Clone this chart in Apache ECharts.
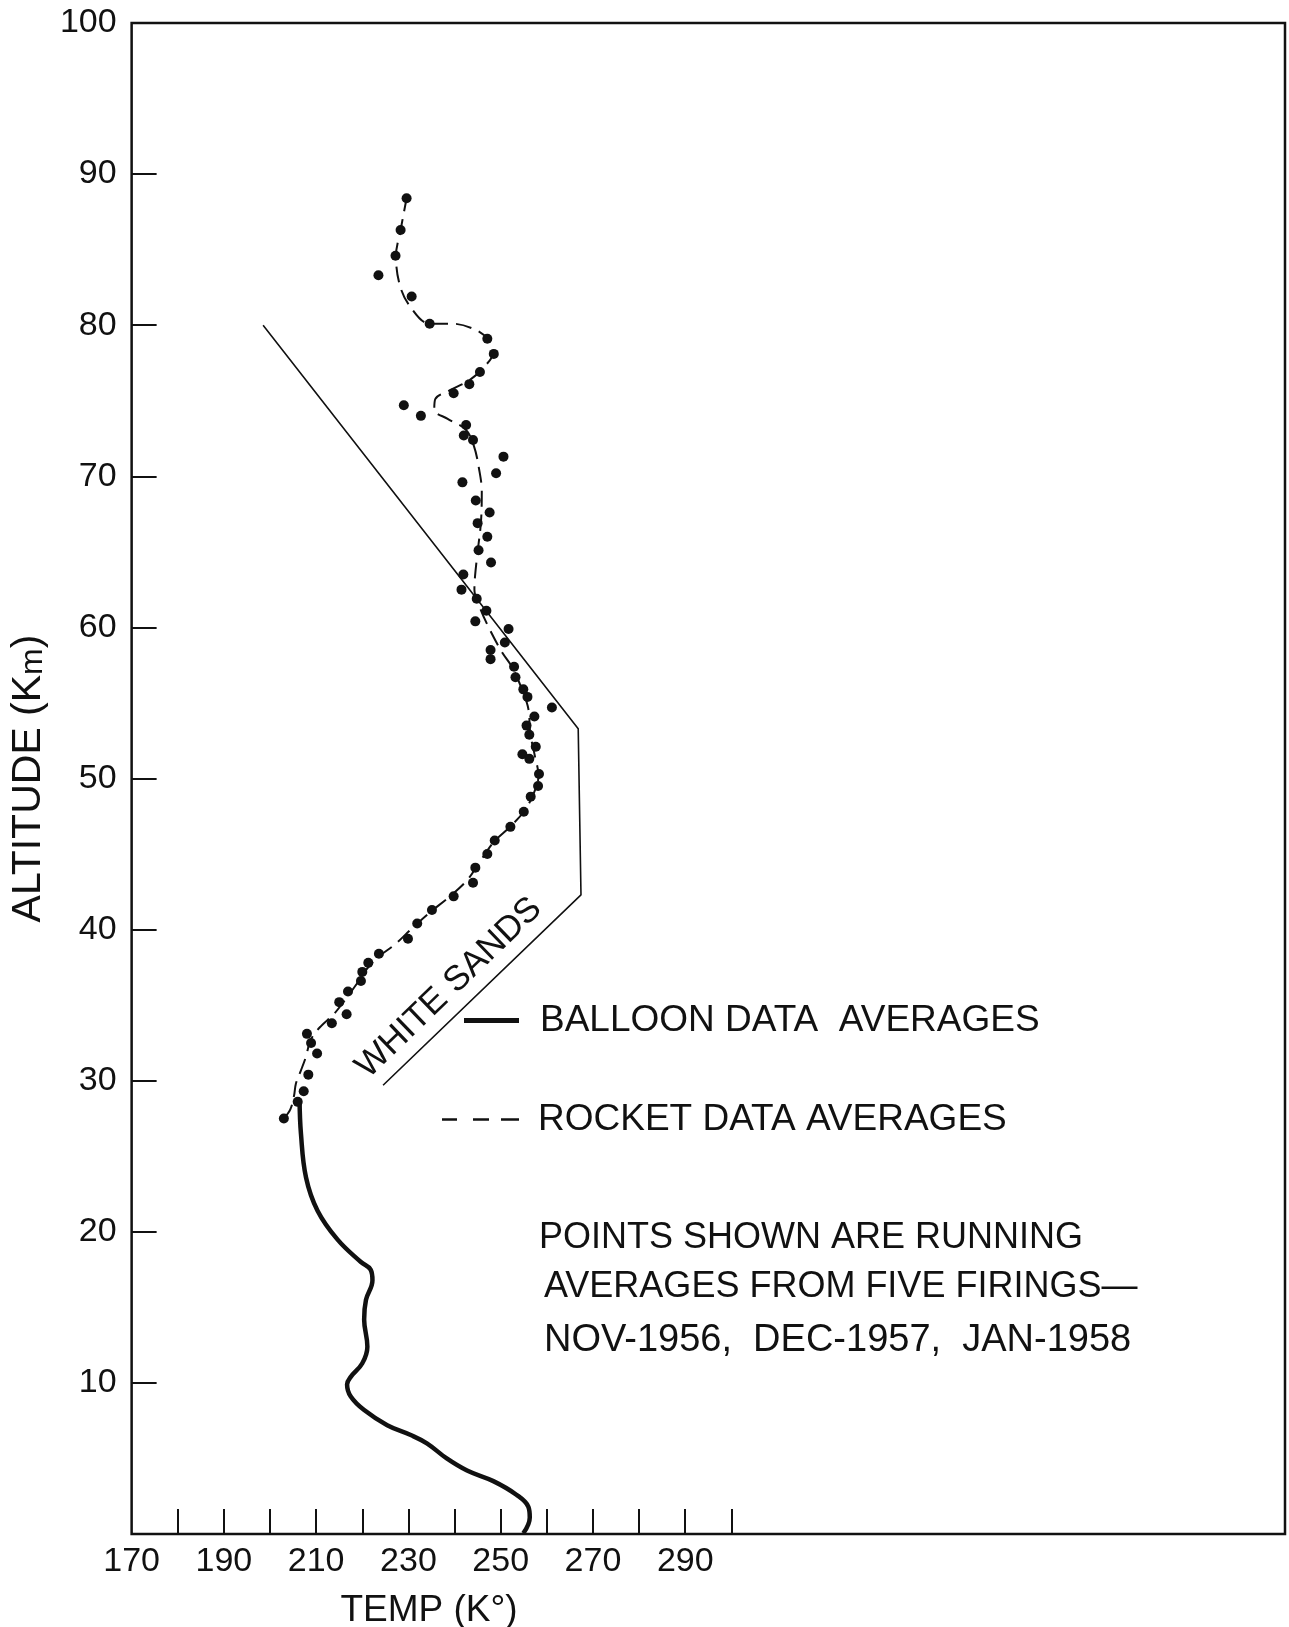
<!DOCTYPE html>
<html>
<head>
<meta charset="utf-8">
<title>Altitude vs Temperature - White Sands</title>
<script src="https://cdn.jsdelivr.net/npm/echarts@6/dist/echarts.min.js"></script>
<style>
  html, body { margin: 0; padding: 0; background: #ffffff; }
  #chart { width: 1289px; height: 1627px; }
</style>
</head>
<body>
<div id="chart"></div>
<script>
// Axis ticks and labels (temperature in K, altitude in km)
const tempTicks = [180, 190, 200, 210, 220, 230, 240, 250, 260, 270, 280, 290, 300];
const tempLabels = [170, 190, 210, 230, 250, 270, 290];
const altTicks = [10, 20, 30, 40, 50, 60, 70, 80, 90];
const altLabels = [10, 20, 30, 40, 50, 60, 70, 80, 90, 100];

// Balloon data averages (solid curve), ground to ~29 km
const balloonTemp = [254.9, 256.3, 256.0, 253.4, 248.4, 242.7, 238.3, 234.0, 230.5, 225.4, 220.4, 217.5, 216.7, 217.5, 220.0, 221.1, 220.4, 220.8, 222.2, 221.8, 219.7, 214.6, 210.3, 207.8, 206.7, 206.4];
const balloonAlt  = [0.05, 1.1, 1.8, 2.6, 3.5, 4.2, 5.0, 6.0, 6.55, 7.2, 8.2, 9.1, 9.9, 10.4, 11.3, 12.4, 14.2, 15.5, 16.8, 17.5, 18.0, 19.5, 21.4, 23.6, 26.5, 28.7];

// Rocket data averages (dashed curve)
const rocketLineTemp = [203.0, 204.4, 205.2, 205.6, 206.6, 207.8, 208.8, 211.0, 213.8, 216.4, 219.0, 221.0, 223.5, 227.0, 230.5, 234.5, 239.0, 242.8, 245.5, 248.5, 252.0, 255.0, 257.0, 258.2, 257.4, 256.4, 256.0, 254.6, 252.6, 250.2, 247.4, 245.5, 244.3, 244.8, 245.7, 245.9, 245.3, 244.2, 242.4, 238.5, 235.6, 235.8, 239.0, 243.4, 246.6, 248.4, 247.5, 244.5, 239.5, 234.6, 230.0, 228.0, 227.3, 228.3, 229.6];
const rocketLineAlt  = [27.5, 28.1, 29.0, 29.8, 30.6, 31.6, 32.7, 33.6, 34.4, 35.4, 36.5, 37.4, 38.2, 39.0, 40.0, 41.1, 42.2, 43.3, 44.5, 45.8, 46.8, 47.8, 48.9, 50.2, 51.5, 53.0, 54.6, 55.9, 57.3, 58.4, 60.0, 61.3, 62.5, 64.5, 66.9, 69.0, 70.5, 72.0, 73.1, 73.8, 74.4, 75.1, 75.7, 76.4, 77.3, 78.2, 79.0, 79.7, 80.1, 80.1, 81.4, 82.8, 84.6, 86.3, 88.4];

// Running averages from five firings (dots)
const pointTemp = [229.6, 228.3, 227.2, 223.5, 230.7, 234.6, 247.1, 248.5, 245.5, 243.2, 239.8, 229.0, 232.7, 242.5, 242.0, 244.0, 250.6, 249.0, 241.7, 244.6,
  247.6, 245.0, 247.1, 245.2, 247.9, 241.9, 241.5, 244.8, 246.9, 244.5, 251.7, 250.9, 247.8, 247.8, 252.9, 253.2, 254.9, 255.8, 261.1, 257.3, 255.6, 256.2, 257.6, 254.7, 256.2, 258.3, 258.1, 256.5,
  255.0, 252.1, 248.7, 247.1, 244.5, 244.0, 239.8, 235.1, 231.9, 229.9, 223.6, 221.3, 220.0, 219.7, 216.9, 215.0, 216.6, 213.4, 208.0, 208.9, 210.2, 208.3, 207.3, 206.0, 203.0];
const pointAlt = [88.4, 86.3, 84.6, 83.3, 81.9, 80.1, 79.1, 78.1, 76.9, 76.1, 75.5, 74.7, 74.0, 73.4, 72.7, 72.4, 71.3, 70.2, 69.6, 68.4,
  67.6, 66.9, 66.0, 65.1, 64.3, 63.5, 62.5, 61.9, 61.1, 60.4, 59.9, 59.0, 58.5, 57.9, 57.4, 56.7, 55.9, 55.4, 54.7, 54.1, 53.5, 52.9, 52.1, 51.6, 51.3, 50.3, 49.5, 48.8,
  47.8, 46.8, 45.9, 45.0, 44.1, 43.1, 42.2, 41.3, 40.4, 39.4, 38.4, 37.8, 37.2, 36.6, 35.9, 35.2, 34.4, 33.8, 33.1, 32.5, 31.8, 30.4, 29.3, 28.6, 27.5];

// White Sands reference profile
const whiteSandsTemp = [198.5, 266.8, 267.4, 224.5];
const whiteSandsAlt  = [80.0, 53.3, 42.3, 29.7];

const zip = (xs, ys) => xs.map((x, i) => [x, ys[i]]);

const INK = '#111111';
const FONT = '"Liberation Sans", Arial, sans-serif';

// Legend keys: a heavy bar for the balloon curve, three dashes for the rocket curve
const BALLOON_KEY = 'path://M0,0H55V5H0Z';
const ROCKET_KEY = 'path://M0,0H15V2.5H0Z M31,0H47V2.5H31Z M59,0H77V2.5H59Z';

const chart = echarts.init(document.getElementById('chart'), null, { renderer: 'canvas' });

chart.setOption({
  animation: false,
  backgroundColor: '#ffffff',
  grid: {
    left: 125, right: 4, top: 23, bottom: 93,
    show: true, borderColor: INK, borderWidth: 2.5
  },
  xAxis: {
    type: 'value', min: 170, max: 420,
    axisLine: { show: false },
    splitLine: { show: false },
    axisTick: { show: true, inside: true, length: 25, customValues: tempTicks,
                lineStyle: { color: INK, width: 2 } },
    axisLabel: { customValues: tempLabels, color: INK, fontFamily: FONT, fontSize: 34, margin: 11, hideOverlap: false }
  },
  yAxis: {
    type: 'value', min: 0, max: 100,
    axisLine: { show: false },
    splitLine: { show: false },
    axisTick: { show: true, inside: true, length: 25, customValues: altTicks,
                lineStyle: { color: INK, width: 2 } },
    axisLabel: { customValues: altLabels, color: INK, fontFamily: FONT, fontSize: 34, margin: 15, hideOverlap: false },
    name: '{a|ALTITUDE (K}{s|m}{a|)}',
    nameLocation: 'middle',
    nameRotate: 90,
    nameGap: 76,
    nameTextStyle: {
      color: INK,
      rich: {
        a: { fontFamily: FONT, fontSize: 41, color: INK, lineHeight: 48, verticalAlign: 'bottom' },
        s: { fontFamily: FONT, fontSize: 32, color: INK, lineHeight: 32, verticalAlign: 'bottom' }
      }
    }
  },
  legend: [
    {
      data: [{ name: 'BALLOON DATA  AVERAGES', icon: BALLOON_KEY }],
      left: 464, top: 1002, padding: 0,
      itemWidth: 55, itemHeight: 5,
      selectedMode: false,
      textStyle: { color: INK, fontFamily: FONT, fontSize: 37, padding: [0, 0, 0, 16] }
    },
    {
      data: [{ name: 'ROCKET DATA AVERAGES', icon: ROCKET_KEY }],
      left: 442, top: 1101, padding: 0,
      itemWidth: 77, itemHeight: 2.5,
      selectedMode: false,
      textStyle: { color: INK, fontFamily: FONT, fontSize: 37, padding: [0, 0, 0, 14] }
    }
  ],
  graphic: [
    { type: 'text', x: 429, y: 1611, style: { text: 'TEMP (K°)', font: '37px ' + FONT, fill: INK, align: 'center', verticalAlign: 'middle' } },
    { type: 'text', x: 449, y: 988, rotation: 44 * Math.PI / 180,
      style: { text: 'WHITE SANDS', font: '35px ' + FONT, fill: INK, align: 'center', verticalAlign: 'middle' } },
    { type: 'text', x: 539, y: 1238, style: { text: 'POINTS SHOWN ARE RUNNING', font: '36px ' + FONT, fill: INK, align: 'left', verticalAlign: 'middle' } },
    { type: 'text', x: 544, y: 1287, style: { text: 'AVERAGES FROM FIVE FIRINGS—', font: '36px ' + FONT, fill: INK, align: 'left', verticalAlign: 'middle' } },
    { type: 'text', x: 544, y: 1341, style: { text: 'NOV-1956,  DEC-1957,  JAN-1958', font: '38px ' + FONT, fill: INK, align: 'left', verticalAlign: 'middle' } }
  ],
  series: [
    {
      name: 'WHITE SANDS',
      type: 'line',
      data: zip(whiteSandsTemp, whiteSandsAlt),
      symbol: 'none',
      lineStyle: { color: INK, width: 1.6 },
      z: 2
    },
    {
      name: 'BALLOON DATA  AVERAGES',
      type: 'line',
      data: zip(balloonTemp, balloonAlt),
      smooth: 0.4,
      symbol: 'none',
      lineStyle: { color: INK, width: 4.5 },
      itemStyle: { color: INK },
      z: 3
    },
    {
      name: 'ROCKET DATA AVERAGES',
      type: 'line',
      data: zip(rocketLineTemp, rocketLineAlt),
      smooth: 0.35,
      symbol: 'none',
      lineStyle: { color: INK, width: 2, type: [16, 8] },
      itemStyle: { color: INK },
      z: 3
    },
    {
      name: 'RUNNING AVERAGES',
      type: 'scatter',
      data: zip(pointTemp, pointAlt),
      symbol: 'circle',
      symbolSize: 10,
      itemStyle: { color: INK, opacity: 1 },
      z: 4
    }
  ]
});
</script>
</body>
</html>
